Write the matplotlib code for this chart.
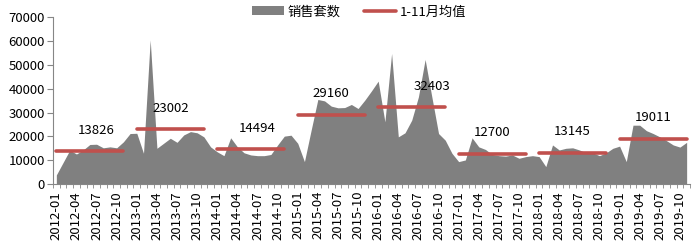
import numpy as np
import matplotlib
import matplotlib.pyplot as plt

matplotlib.use('Agg')
plt.rcParams['font.family'] = ['Noto Sans CJK SC', 'DejaVu Sans']

years = list(range(2012, 2020))
months = [f'{y}-{m:02d}' for y in years for m in range(1, 13)][:95]  # 2012-01 .. 2019-11

# monthly sales
sales = [3800, 9000, 14200, 12600, 14300, 16600, 16700, 15200, 15600, 15200, 17700, 21200,
         21300, 12900, 60500, 15000, 17100, 19200, 17500, 20600, 22000, 21500, 19800, 15600,
         13500, 11900, 19400, 15600, 13100, 12200, 11900, 11900, 12400, 16400, 20100, 20500,
         17100, 9400, 22600, 35500, 34900, 32700, 32000, 32100, 33400, 31700, 35200, 39100,
         43200, 26100, 54800, 19800, 21500, 26800, 36600, 52300, 36600, 21200, 18400, 12900,
         9400, 10100, 19400, 15600, 14500, 12400, 11900, 11700, 12200, 10800, 11500, 11900,
         11500, 7300, 16400, 14300, 15000, 15200, 14300, 13100, 13100, 11900, 13100, 15000,
         15900, 9400, 24700, 24700, 22400, 21200, 19800, 18200, 16400, 15500, 17500]
# Jan-Nov average for each year
avgs = [13826, 23002, 14494, 29160, 32403, 12700, 13145, 19011]
label_shift = [1, 0, 1, 0, 3, 0, 0, 0]  # months, label placement

x = np.arange(len(sales))
fig = plt.figure(figsize=(7, 2.49), dpi=100)
ax = fig.add_axes([0.0757, 0.261, 0.9100, 0.6695])

ax.fill_between(x, sales, 0, color='#808080', linewidth=0, label='销售套数')
for k, a in enumerate(avgs):
    s = 12 * k
    ax.plot([s, s + 10], [a, a], color='#C0504D', lw=2.6, solid_capstyle='round',
            label='1-11月均值' if k == 0 else None)
    ax.annotate(str(a), (s + 5 + label_shift[k], a), xytext=(0, 15), textcoords='offset points',
                ha='center', va='center', fontsize=9.5)

ax.set_xlim(-0.5, len(sales) - 0.5)
ax.set_ylim(0, 70000)
ax.set_yticks(np.arange(0, 70001, 10000))
ax.set_xticks(x[::3])
ax.set_xticklabels(months[::3], rotation=90, fontsize=9.5)
ax.set_xticks(np.arange(-0.5, len(sales), 1), minor=True)
ax.tick_params(axis='x', which='major', length=0, pad=5)
ax.tick_params(axis='x', which='minor', length=3, color='#868686')
ax.tick_params(axis='y', length=4, color='#868686', labelsize=9.5, pad=2)
for sp in ['top', 'right']:
    ax.spines[sp].set_visible(False)
for sp in ['left', 'bottom']:
    ax.spines[sp].set_color('#868686')

fig.legend(loc='center', bbox_to_anchor=(0.513, 0.952), ncol=2, frameon=False, fontsize=9.5,
           handlelength=2.4, handletextpad=0.3, columnspacing=1.8)

fig.savefig('out.png', dpi=100)
